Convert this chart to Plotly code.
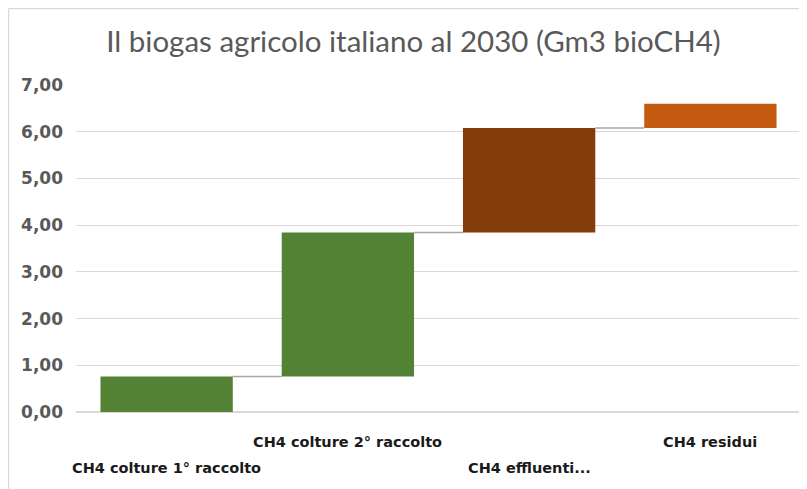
import plotly.graph_objects as go

categories = ["CH4 colture 1° raccolto", "CH4 colture 2° raccolto", "CH4 effluenti...", "CH4 residui"]
values = [0.76, 3.08, 2.24, 0.52]
colors = ["#548235", "#548235", "#843C0C", "#C55A11"]
label_row = [1, 0, 1, 0]  # staggered category label rows
title_text = "Il biogas agricolo italiano al 2030 (Gm3 bioCH4)"
y_ticks = [0, 1, 2, 3, 4, 5, 6, 7]

# cumulative bases
bases = []
cum = []
total = 0.0
for v in values:
    bases.append(total)
    total += v
    cum.append(total)

xpos = list(range(len(categories)))
bar_w = 0.73

fig = go.Figure()
fig.add_trace(go.Bar(
    x=xpos, y=values, base=bases, width=bar_w,
    marker=dict(color=colors, line=dict(width=0)),
    hoverinfo="skip", showlegend=False,
))

# connectors
for i in range(len(values) - 1):
    fig.add_trace(go.Scatter(
        x=[xpos[i] + bar_w / 2, xpos[i + 1] - bar_w / 2],
        y=[cum[i], cum[i]],
        mode="lines", line=dict(color="#a6a6a6", width=1.5),
        hoverinfo="skip", showlegend=False,
    ))

LABEL_FONT = "DejaVu Sans, sans-serif"

# staggered category labels
annotations = []
for i, c in enumerate(categories):
    annotations.append(dict(
        x=xpos[i], y=0, xref="x", yref="paper", text=c, showarrow=False,
        yanchor="middle", xanchor="center",
        yshift=-30 - 26 * label_row[i],
        font=dict(family=LABEL_FONT, size=14.5, color="#1a1a1a", weight="bold"),
    ))

# page has an 8px body margin; figure drawn from (8, 8)
W, H = 799, 481
ml, mr, mt, mb = 68, 6, 77, 77
pw, ph = W - ml - mr, H - mt - mb
bx = 0.6 / W
by = 1 - 0.6 / H
shapes = [
    dict(type="line", xref="paper", yref="paper", x0=(0.6 - ml) / pw, x1=(W - ml + 20) / pw,
         y0=(H - mb - 0.6) / ph, y1=(H - mb - 0.6) / ph, line=dict(color="#d9d9d9", width=1.2)),
    dict(type="line", xref="paper", yref="paper", x0=(0.6 - ml) / pw, x1=(0.6 - ml) / pw,
         y0=(H - mb - 0.6) / ph, y1=-(mb + 20) / ph, line=dict(color="#d9d9d9", width=1.2)),
]

fig.update_layout(
    width=W, height=H,
    margin=dict(l=ml, r=mr, t=mt, b=mb),
    paper_bgcolor="white", plot_bgcolor="white",
    separators=",.",
    title=dict(text=title_text, x=405.5 / W, xref="container", xanchor="center",
               y=1 - 34 / H, yref="container", yanchor="middle",
               font=dict(family="Lato, Liberation Sans, sans-serif", size=29.5, color="#595959")),
    xaxis=dict(range=[-0.5, len(categories) - 0.5], showticklabels=False, showgrid=False,
               zeroline=False, showline=False, ticks=""),
    yaxis=dict(range=[0, 7], tickvals=y_ticks, tickformat=".2f", showgrid=True,
               gridcolor="#d9d9d9", gridwidth=1, zeroline=True, zerolinecolor="#d9d9d9",
               zerolinewidth=1.5, showline=False, ticks="", ticklabelstandoff=12,
               tickfont=dict(family=LABEL_FONT, size=17, color="#595959", weight="bold")),
    annotations=annotations,
    shapes=shapes,
    bargap=0.27,
)

fig.write_html("out.html")
